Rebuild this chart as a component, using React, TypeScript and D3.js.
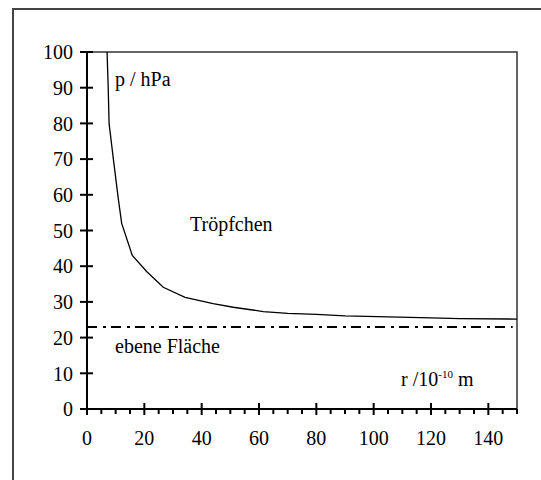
import React, { useEffect, useRef } from 'react';
import * as d3 from 'd3';

// Tropfenradius r (10^-10 m) und Dampfdruck p (hPa)
const radius = [7, 7.4, 7.7, 9.2, 10.9, 12.1, 15.8, 20.8, 26.6, 34.2, 44, 51, 61.5, 70, 80, 90, 105, 120, 130, 150];
const pressure = [100, 90, 80, 70, 59, 52, 43, 38.5, 34.1, 31.3, 29.5, 28.5, 27.3, 26.8, 26.5, 26.1, 25.8, 25.5, 25.3, 25.2];
const flatPressure = 23; // ebene Fläche
const xTicks = [0, 20, 40, 60, 80, 100, 120, 140];
const yTicks = [0, 10, 20, 30, 40, 50, 60, 70, 80, 90, 100];

const W = 541, H = 480;
const left = 87, right = 517, top = 52, bottom = 409;
const font = "'Liberation Serif'";

export default function App() {
  const ref = useRef<SVGSVGElement>(null);

  useEffect(() => {
    const svg = d3.select(ref.current);
    svg.selectAll('*').remove();

    const x = d3.scaleLinear().domain([0, 150]).range([left, right]);
    const y = d3.scaleLinear().domain([0, 100]).range([bottom, top]);

    // outer frame
    svg.append('rect')
      .attr('x', 13).attr('y', 9).attr('width', 560).attr('height', 500)
      .attr('fill', 'white').attr('stroke', '#444').attr('stroke-width', 2);

    // plot frame top/right
    svg.append('path')
      .attr('d', `M${left},${top}H${right}V${bottom}`)
      .attr('fill', 'none').attr('stroke', '#333').attr('stroke-width', 1.5);

    svg.append('defs').append('clipPath').attr('id', 'plot')
      .append('rect').attr('x', left).attr('y', top).attr('width', right - left).attr('height', bottom - top);

    // dash-dot line
    svg.append('line')
      .attr('x1', x(0)).attr('x2', x(148.5))
      .attr('y1', y(flatPressure)).attr('y2', y(flatPressure))
      .attr('stroke', 'black').attr('stroke-width', 2)
      .attr('stroke-dasharray', '10,6,3,5');

    // curve
    const line = d3.line<number>().x((d) => x(d)).y((_, i) => y(pressure[i]));
    svg.append('path')
      .attr('d', line(radius))
      .attr('clip-path', 'url(#plot)')
      .attr('fill', 'none').attr('stroke', 'black').attr('stroke-width', 1.3);

    // axes
    const axes = svg.append('g').attr('stroke', 'black').attr('stroke-width', 2);
    axes.append('line').attr('x1', left).attr('x2', left).attr('y1', top).attr('y2', bottom + 1);
    axes.append('line').attr('x1', left - 1).attr('x2', right).attr('y1', bottom).attr('y2', bottom);

    axes.selectAll('line.yt').data(yTicks).join('line').attr('class', 'yt')
      .attr('x1', left - 7).attr('x2', left + 6)
      .attr('y1', (d) => y(d)).attr('y2', (d) => y(d));

    axes.selectAll('line.xt').data(xTicks).join('line').attr('class', 'xt')
      .attr('y1', bottom - 6).attr('y2', bottom + 6)
      .attr('x1', (d) => x(d)).attr('x2', (d) => x(d));

    const minor = d3.range(0, 151, 5).filter((d) => d % 20 !== 0);
    axes.selectAll('line.mt').data(minor).join('line').attr('class', 'mt')
      .attr('y1', bottom).attr('y2', bottom + 5)
      .attr('x1', (d) => x(d)).attr('x2', (d) => x(d));

    const txt = svg.append('g').attr('fill', 'black');
    const label = (sel: d3.Selection<any, any, any, any>) =>
      sel.style('font-family', font).style('font-size', '20px');

    txt.selectAll('text.yl').data(yTicks).join('text').attr('class', 'yl')
      .call(label)
      .attr('x', 73).attr('y', (d) => y(d)).attr('dy', '0.36em')
      .attr('text-anchor', 'end').text((d) => d);

    txt.selectAll('text.xl').data(xTicks).join('text').attr('class', 'xl')
      .call(label)
      .attr('x', (d) => x(d)).attr('y', 445)
      .attr('text-anchor', 'middle').text((d) => d);

    txt.append('text').call(label).attr('x', 115).attr('y', 86).text('p / hPa');
    txt.append('text').call(label).attr('x', 190).attr('y', 231).text('Tröpfchen');
    txt.append('text').call(label).attr('x', 115).attr('y', 353).text('ebene Fläche');

    const rl = txt.append('text').call(label).attr('x', 401).attr('y', 386);
    rl.append('tspan').text('r /10');
    rl.append('tspan').style('font-size', '11px').attr('dy', -8).text('-10');
    rl.append('tspan').attr('dy', 8).text(' m');
  }, []);

  return (
    <svg ref={ref} width={W} height={H}
      style={{ position: 'absolute', left: 0, top: 0, background: 'white' }} />
  );
}
